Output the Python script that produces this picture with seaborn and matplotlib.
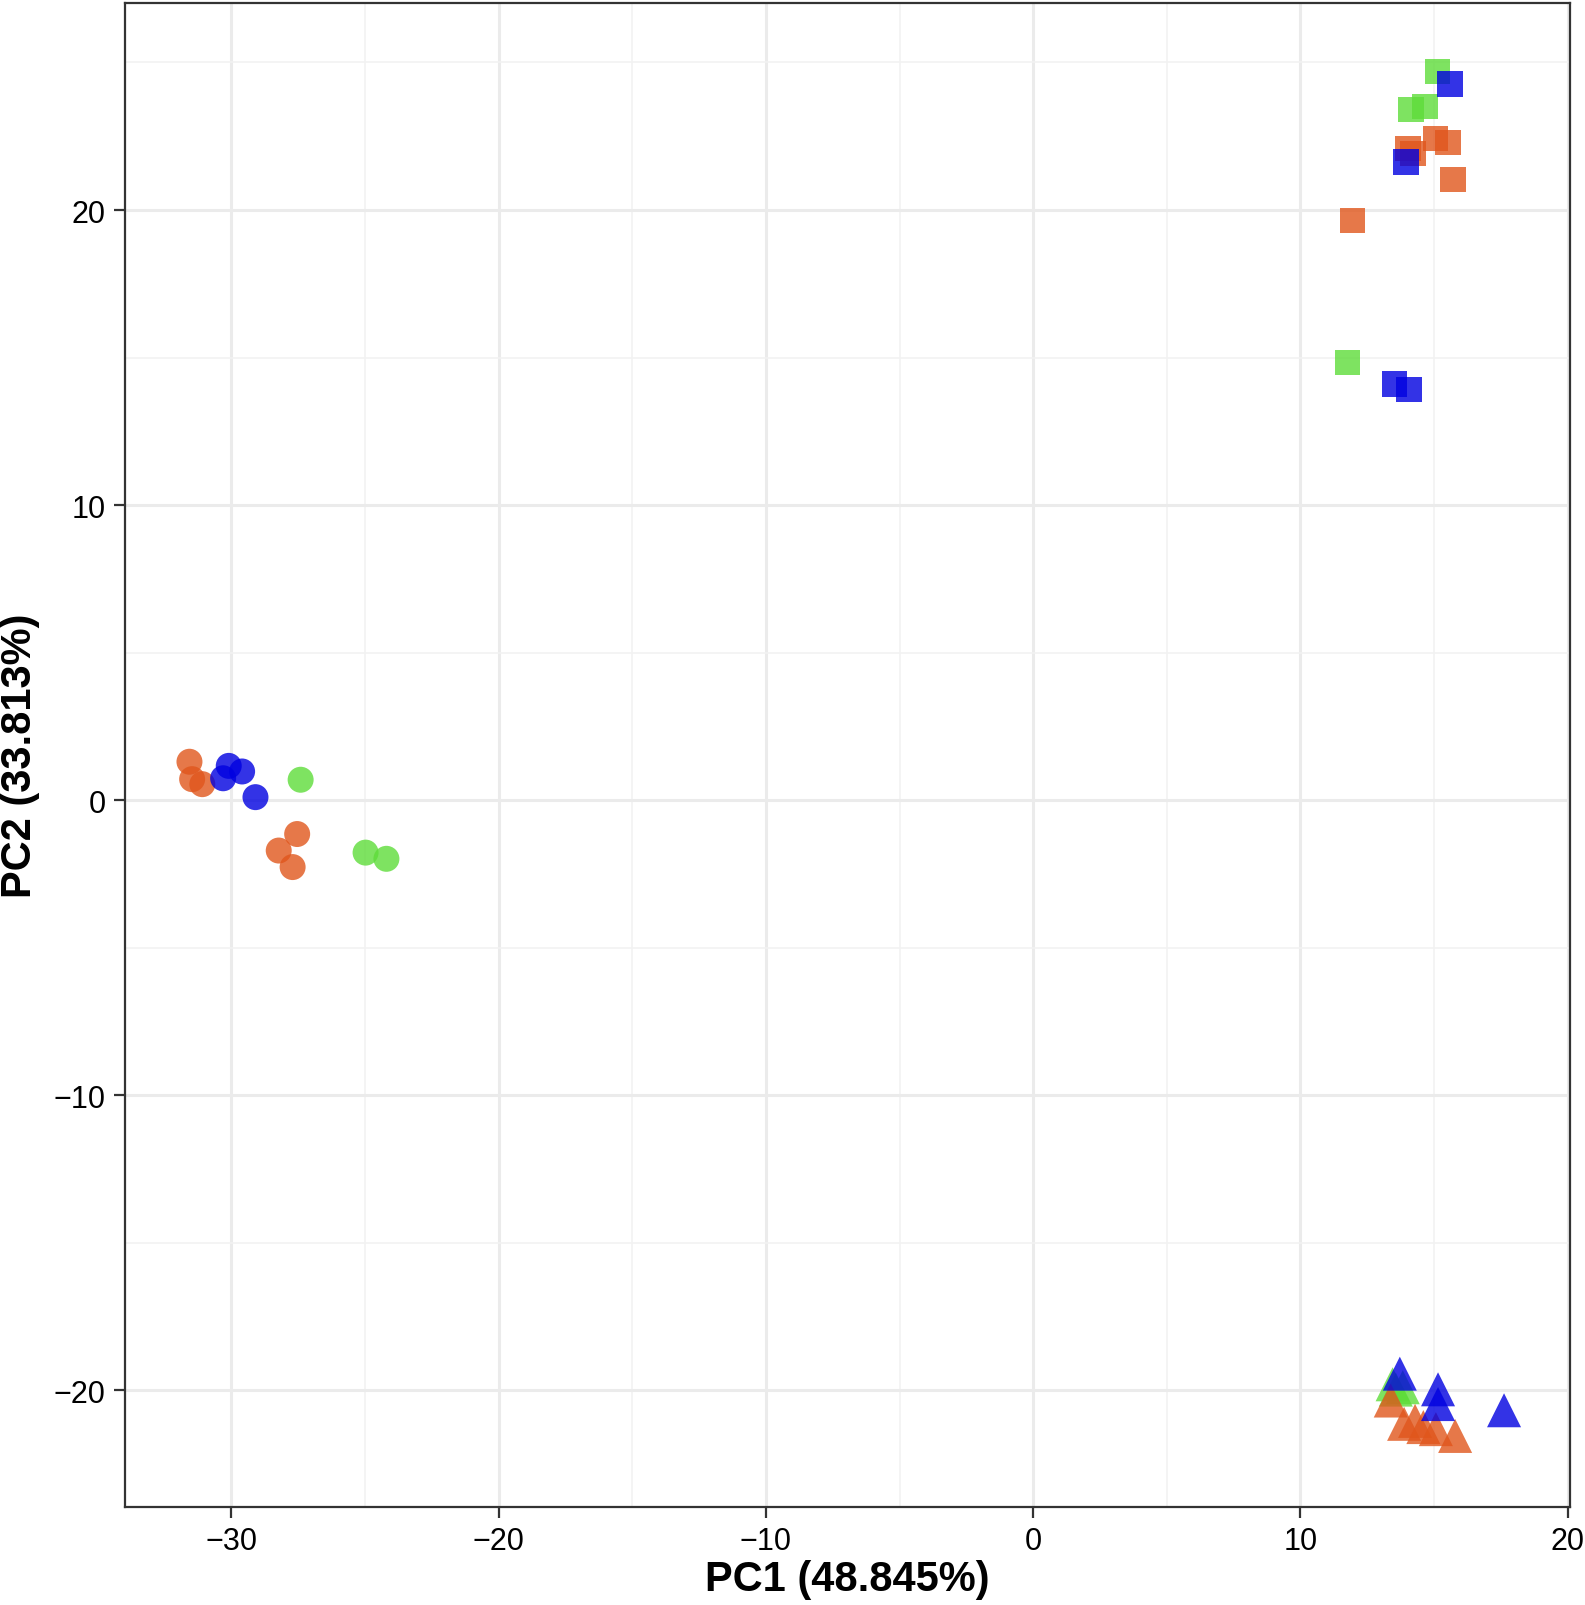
import matplotlib.pyplot as plt
import seaborn as sns
import pandas as pd
import numpy as np

# PCA scores, grouped by colour and cluster shape
circ_green_x = [-27.41, -24.98, -24.20]
circ_green_y = [0.69, -1.78, -1.99]
circ_orange_x = [-31.57, -31.47, -31.09, -27.54, -28.23, -27.71]
circ_orange_y = [1.30, 0.71, 0.54, -1.15, -1.71, -2.27]
circ_blue_x = [-30.10, -30.31, -29.60, -29.10]
circ_blue_y = [1.16, 0.74, 0.97, 0.10]

sq_green_x = [15.13, 14.14, 14.67, 11.76]
sq_green_y = [24.69, 23.40, 23.51, 14.83]
sq_orange_x = [14.02, 14.21, 15.06, 15.52, 15.71, 11.95]
sq_orange_y = [22.08, 21.91, 22.43, 22.29, 21.04, 19.65]
sq_blue_x = [15.59, 13.95, 13.52, 14.06]
sq_blue_y = [24.27, 21.63, 14.10, 13.92]

tri_green_x = [13.57, 13.45, 13.83]
tri_green_y = [-19.98, -19.80, -19.90]
tri_orange_x = [13.38, 13.88, 14.29, 14.60, 15.07, 15.79]
tri_orange_y = [-20.35, -21.14, -21.04, -21.25, -21.32, -21.55]
tri_blue_x = [13.72, 15.15, 15.15, 17.62]
tri_blue_y = [-19.44, -19.97, -20.47, -20.68]

rows = []
for shape, parts in [
    ("circle", [("green", circ_green_x, circ_green_y), ("orange", circ_orange_x, circ_orange_y), ("blue", circ_blue_x, circ_blue_y)]),
    ("square", [("green", sq_green_x, sq_green_y), ("orange", sq_orange_x, sq_orange_y), ("blue", sq_blue_x, sq_blue_y)]),
    ("triangle", [("green", tri_green_x, tri_green_y), ("orange", tri_orange_x, tri_orange_y), ("blue", tri_blue_x, tri_blue_y)]),
]:
    for grp, xs, ys in parts:
        for x, y in zip(xs, ys):
            rows.append({"PC1": x, "PC2": y, "group": grp, "shape": shape})
df = pd.DataFrame(rows)

palette = {"green": "#5EDC3A", "orange": "#E0561C", "blue": "#0000E0"}
markers = {"circle": "o", "square": "s", "triangle": "^"}
sizes = {"circle": 350, "square": 340, "triangle": 600}

sns.set_style("whitegrid")
plt.rcParams['font.family'] = ['Liberation Sans', 'DejaVu Sans']

fig = plt.figure(figsize=(15.85, 16.06), dpi=100)
ax = fig.add_axes([0.0789, 0.061, 0.9115, 0.9364])

for shp in ["circle", "square", "triangle"]:
    sub = df[df["shape"] == shp]
    sns.scatterplot(data=sub, x="PC1", y="PC2", hue="group", palette=palette,
                    marker=markers[shp], s=sizes[shp], alpha=0.8, linewidth=0,
                    hue_order=["green", "orange", "blue"], legend=False, ax=ax)

ax.set_xlim(-33.98, 20.08)
ax.set_ylim(-23.96, 27.01)
ax.set_xticks([-30, -20, -10, 0, 10, 20])
ax.set_yticks([-20, -10, 0, 10, 20])
ax.set_xticks(np.arange(-25, 20, 10), minor=True)
ax.set_yticks(np.arange(-15, 26, 10), minor=True)
ax.set_xticklabels(["\u221230", "\u221220", "\u221210", "0", "10", "20"])
ax.set_yticklabels(["\u221220", "\u221210", "0", "10", "20"])

ax.grid(which="major", color="#EBEBEB", linewidth=2.2)
ax.grid(which="minor", color="#F2F2F2", linewidth=1.2)
ax.set_axisbelow(True)
for sp in ax.spines.values():
    sp.set_color("#333333")
    sp.set_linewidth(1.6)

ax.tick_params(axis="both", which="major", length=8, width=1.6, color="#333333",
               labelsize=22, labelcolor="black", bottom=True, left=True, pad=6)
ax.tick_params(axis="both", which="minor", length=0)

ax.set_xlabel("PC1 (48.845%)", fontsize=30, fontweight="bold", color="black", labelpad=2)
ax.set_ylabel("PC2 (33.813%)", fontsize=30, fontweight="bold", color="black", labelpad=10)

fig.savefig("out.png", dpi=100)
